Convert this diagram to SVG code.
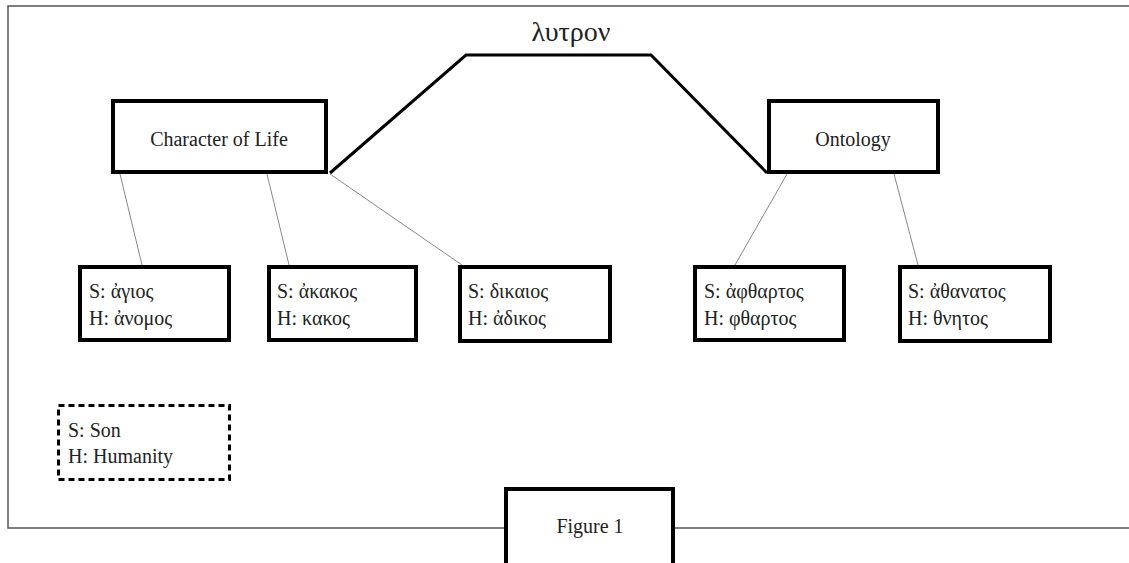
<svg xmlns="http://www.w3.org/2000/svg" width="1129" height="563" viewBox="0 0 1129 563">
<style>
  text { font-family: "Liberation Serif", "DejaVu Serif", serif; font-size: 20px; fill: #222; }
  .box { fill: #fff; stroke: #000; stroke-width: 4; }
  .legend { fill: #fff; stroke: #000; stroke-width: 3; stroke-dasharray: 6 4; }
  .thin { stroke: #888; stroke-width: 1; fill: none; }
  .thick { stroke: #000; stroke-width: 3; fill: none; stroke-linejoin: miter; }
  .frame { stroke: #555; stroke-width: 1.5; fill: none; }
  .mid { text-anchor: middle; }
</style>
<rect width="1129" height="563" fill="#fff"/>
<g id="frame">
  <path class="frame" d="M1129,6 H8 V528 H506 M673,528 H1129"/>
</g>
<g id="connectors">
  <path class="thick" d="M330,173 L466,55 L651,55 L767,173"/>
  <line class="thin" x1="120" y1="174" x2="142" y2="265"/>
  <line class="thin" x1="267" y1="174" x2="289" y2="265"/>
  <line class="thin" x1="330" y1="174" x2="462" y2="265"/>
  <line class="thin" x1="787" y1="174" x2="735" y2="265"/>
  <line class="thin" x1="894" y1="174" x2="918" y2="265"/>
</g>
<g id="title">
  <text x="571" y="41" class="mid" style="font-size:28px">λυτρον</text>
</g>
<g id="character">
  <rect class="box" x="113" y="101" width="213" height="71"/>
  <text x="219" y="146" class="mid">Character of Life</text>
</g>
<g id="ontology">
  <rect class="box" x="769" y="101" width="169" height="71"/>
  <text x="853" y="146" class="mid">Ontology</text>
</g>
<g id="hagios">
  <rect class="box" x="80" y="267" width="149" height="73"/>
  <text x="89" y="298">S: ἀγιος</text>
  <text x="89" y="325">H: ἀνομος</text>
</g>
<g id="akakos">
  <rect class="box" x="269" y="267" width="147" height="73"/>
  <text x="277" y="298">S: ἀκακος</text>
  <text x="277" y="325">H: κακος</text>
</g>
<g id="dikaios">
  <rect class="box" x="460" y="267" width="150" height="74"/>
  <text x="468" y="298">S: δικαιος</text>
  <text x="468" y="325">H: ἀδικος</text>
</g>
<g id="aphthartos">
  <rect class="box" x="695" y="267" width="149" height="73"/>
  <text x="704" y="298">S: ἀφθαρτος</text>
  <text x="704" y="325">H: φθαρτος</text>
</g>
<g id="athanatos">
  <rect class="box" x="900" y="267" width="150" height="74"/>
  <text x="908" y="298">S: ἀθανατος</text>
  <text x="908" y="325">H: θνητος</text>
</g>
<g id="legend">
  <rect class="legend" x="58.5" y="405.5" width="171" height="74"/>
  <text x="68" y="437">S: Son</text>
  <text x="68" y="463">H: Humanity</text>
</g>
<g id="figure">
  <rect class="box" x="506" y="489" width="167" height="80"/>
  <text x="590" y="533" class="mid">Figure 1</text>
</g>
</svg>
